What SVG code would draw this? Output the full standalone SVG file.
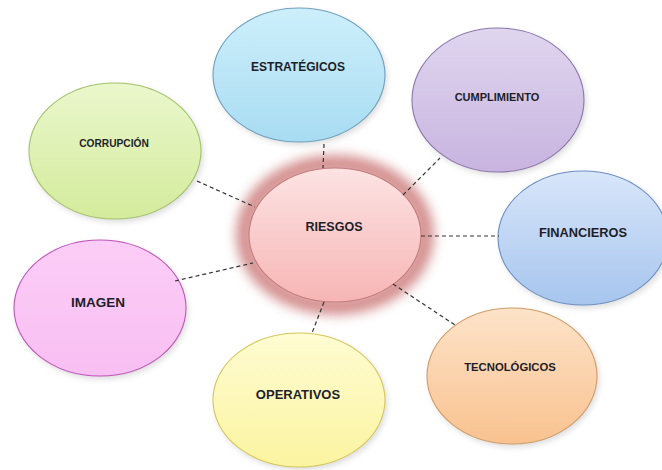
<svg xmlns="http://www.w3.org/2000/svg" width="662" height="470" viewBox="0 0 662 470">
<style>
text{font-family:"Liberation Sans",Arial,sans-serif;font-weight:bold;fill:#1e1e28;text-anchor:middle;dominant-baseline:central}
.c{stroke:#333;stroke-width:1.2;stroke-dasharray:4 3;fill:none}
.n{stroke-width:1.1}
</style>
<defs>
<filter id="glow" x="-30%" y="-30%" width="160%" height="160%"><feGaussianBlur stdDeviation="6"/></filter>
<filter id="sh" x="-20%" y="-20%" width="140%" height="140%"><feGaussianBlur stdDeviation="3"/></filter>
<linearGradient id="gBlue" x1="0" y1="0" x2="0" y2="1"><stop offset="0" stop-color="#cdeffb"/><stop offset="1" stop-color="#a8dcf2"/></linearGradient>
<linearGradient id="gPurp" x1="0" y1="0" x2="0" y2="1"><stop offset="0" stop-color="#e0d6ef"/><stop offset="1" stop-color="#c8b4e0"/></linearGradient>
<linearGradient id="gLime" x1="0" y1="0" x2="0" y2="1"><stop offset="0" stop-color="#eaf7cc"/><stop offset="1" stop-color="#d4eb9c"/></linearGradient>
<linearGradient id="gFin" x1="0" y1="0" x2="0" y2="1"><stop offset="0" stop-color="#d8e6fa"/><stop offset="1" stop-color="#a7c5ee"/></linearGradient>
<linearGradient id="gPink" x1="0" y1="0" x2="0" y2="1"><stop offset="0" stop-color="#fccdf7"/><stop offset="1" stop-color="#f8bff2"/></linearGradient>
<linearGradient id="gYel" x1="0" y1="0" x2="0" y2="1"><stop offset="0" stop-color="#fefcd2"/><stop offset="1" stop-color="#fbf4a0"/></linearGradient>
<linearGradient id="gOra" x1="0" y1="0" x2="0" y2="1"><stop offset="0" stop-color="#fde3c9"/><stop offset="1" stop-color="#f9c28f"/></linearGradient>
<linearGradient id="gRed" x1="0" y1="0" x2="0" y2="1"><stop offset="0" stop-color="#fde3e3"/><stop offset="1" stop-color="#f7b5b5"/></linearGradient>
</defs>

<g id="shadows" fill="#000" opacity="0.14" filter="url(#sh)">
<ellipse cx="301" cy="78" rx="86" ry="67"/>
<ellipse cx="500" cy="103" rx="86" ry="72"/>
<ellipse cx="117" cy="154" rx="86" ry="68"/>
<ellipse cx="585" cy="241" rx="85" ry="67"/>
<ellipse cx="102" cy="311" rx="86" ry="68"/>
<ellipse cx="301" cy="403" rx="86" ry="67"/>
<ellipse cx="514" cy="379" rx="85" ry="68"/>
</g>

<g id="estrategicos">
<ellipse class="n" cx="299" cy="75" rx="86" ry="67" fill="url(#gBlue)" stroke="#6f9fbe"/>
<text x="298" y="67" font-size="12">ESTRATÉGICOS</text>
</g>
<g id="cumplimiento">
<ellipse class="n" cx="498" cy="100" rx="86" ry="72" fill="url(#gPurp)" stroke="#8b78aa"/>
<text x="497" y="97" font-size="11">CUMPLIMIENTO</text>
</g>
<g id="corrupcion">
<ellipse class="n" cx="115" cy="151" rx="86" ry="68" fill="url(#gLime)" stroke="#a4c26a"/>
<text x="114" y="143" font-size="10.2">CORRUPCIÓN</text>
</g>
<g id="financieros">
<ellipse class="n" cx="583" cy="238" rx="85" ry="67" fill="url(#gFin)" stroke="#6c8fc4"/>
<text x="583" y="232" font-size="12.8">FINANCIEROS</text>
</g>
<g id="imagen">
<ellipse class="n" cx="100" cy="308" rx="86" ry="68" fill="url(#gPink)" stroke="#c055b8"/>
<text x="98" y="302" font-size="13.5">IMAGEN</text>
</g>
<g id="operativos">
<ellipse class="n" cx="299" cy="400" rx="86" ry="67" fill="url(#gYel)" stroke="#d6c75a"/>
<text x="298" y="394" font-size="13">OPERATIVOS</text>
</g>
<g id="tecnologicos">
<ellipse class="n" cx="512" cy="376" rx="85" ry="68" fill="url(#gOra)" stroke="#d09c66"/>
<text x="510" y="367" font-size="11.3">TECNOLÓGICOS</text>
</g>
<g id="riesgos">
<ellipse cx="335" cy="235" rx="90" ry="71" fill="none" stroke="#b84444" stroke-width="18" opacity="0.6" filter="url(#glow)"/>
<ellipse class="n" cx="335" cy="235" rx="86" ry="67" fill="url(#gRed)" stroke="#c47a7a"/>
<text x="334" y="227" font-size="12.5">RIESGOS</text>
</g>

<g id="connectors">
<line class="c" x1="324" y1="144" x2="323" y2="168"/>
<line class="c" x1="403" y1="195" x2="440" y2="158"/>
<line class="c" x1="197" y1="181" x2="255" y2="207"/>
<line class="c" x1="421" y1="236" x2="499" y2="236"/>
<line class="c" x1="175" y1="281" x2="253" y2="263"/>
<line class="c" x1="324" y1="302" x2="312" y2="333"/>
<line class="c" x1="393" y1="284" x2="455" y2="325"/>
</g>
</svg>
